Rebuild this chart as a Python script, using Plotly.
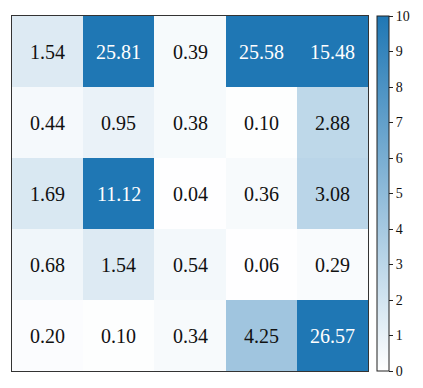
import plotly.graph_objects as go

# cell values, top row first
row_1 = [1.54, 25.81, 0.39, 25.58, 15.48]
row_2 = [0.44, 0.95, 0.38, 0.10, 2.88]
row_3 = [1.69, 11.12, 0.04, 0.36, 3.08]
row_4 = [0.68, 1.54, 0.54, 0.06, 0.29]
row_5 = [0.20, 0.10, 0.34, 4.25, 26.57]
values = [row_1, row_2, row_3, row_4, row_5]
cols = [0, 1, 2, 3, 4]
rows = [0, 1, 2, 3, 4]
cbar_ticks = list(range(0, 11))

FONT = "Liberation Serif"

fig = go.Figure()
fig.add_trace(go.Heatmap(
    z=values,
    x=cols,
    y=rows,
    zmin=0,
    zmax=10,
    colorscale=[[0, "#ffffff"], [1, "#1f77b4"]],
    hoverinfo="skip",
    colorbar=dict(
        thickness=12,
        len=1,
        lenmode="fraction",
        y=0.5,
        yanchor="middle",
        ypad=0,
        x=1.025,
        xanchor="left",
        xpad=0,
        outlinewidth=1,
        outlinecolor="#222",
        ticks="outside",
        ticklen=4,
        tickwidth=1,
        tickcolor="#222",
        tickvals=cbar_ticks,
        tickfont=dict(family=FONT, size=14, color="#111"),
    ),
))

# value labels, white on the dark cells
for r, row in zip(rows, values):
    for c, v in zip(cols, row):
        fig.add_annotation(
            x=c, y=r, text=f"{v:.2f}", showarrow=False,
            font=dict(family=FONT, size=20, color="white" if v > 5 else "#111"),
        )

fig.update_xaxes(range=[-0.5, 4.5], showticklabels=False, ticks="", showgrid=False,
                 zeroline=False, showline=True, mirror=True, linecolor="#333", linewidth=1)
fig.update_yaxes(range=[4.5, -0.5], showticklabels=False, ticks="", showgrid=False,
                 zeroline=False, showline=True, mirror=True, linecolor="#333", linewidth=1)

# page body keeps its default 8px margin, so the figure is sized to fit inside it
fig.update_layout(
    width=407,
    height=372,
    margin=dict(l=4, r=47, t=8, b=9),
    plot_bgcolor="white",
    paper_bgcolor="white",
    font=dict(family=FONT),
)

fig.write_html("out.html")
